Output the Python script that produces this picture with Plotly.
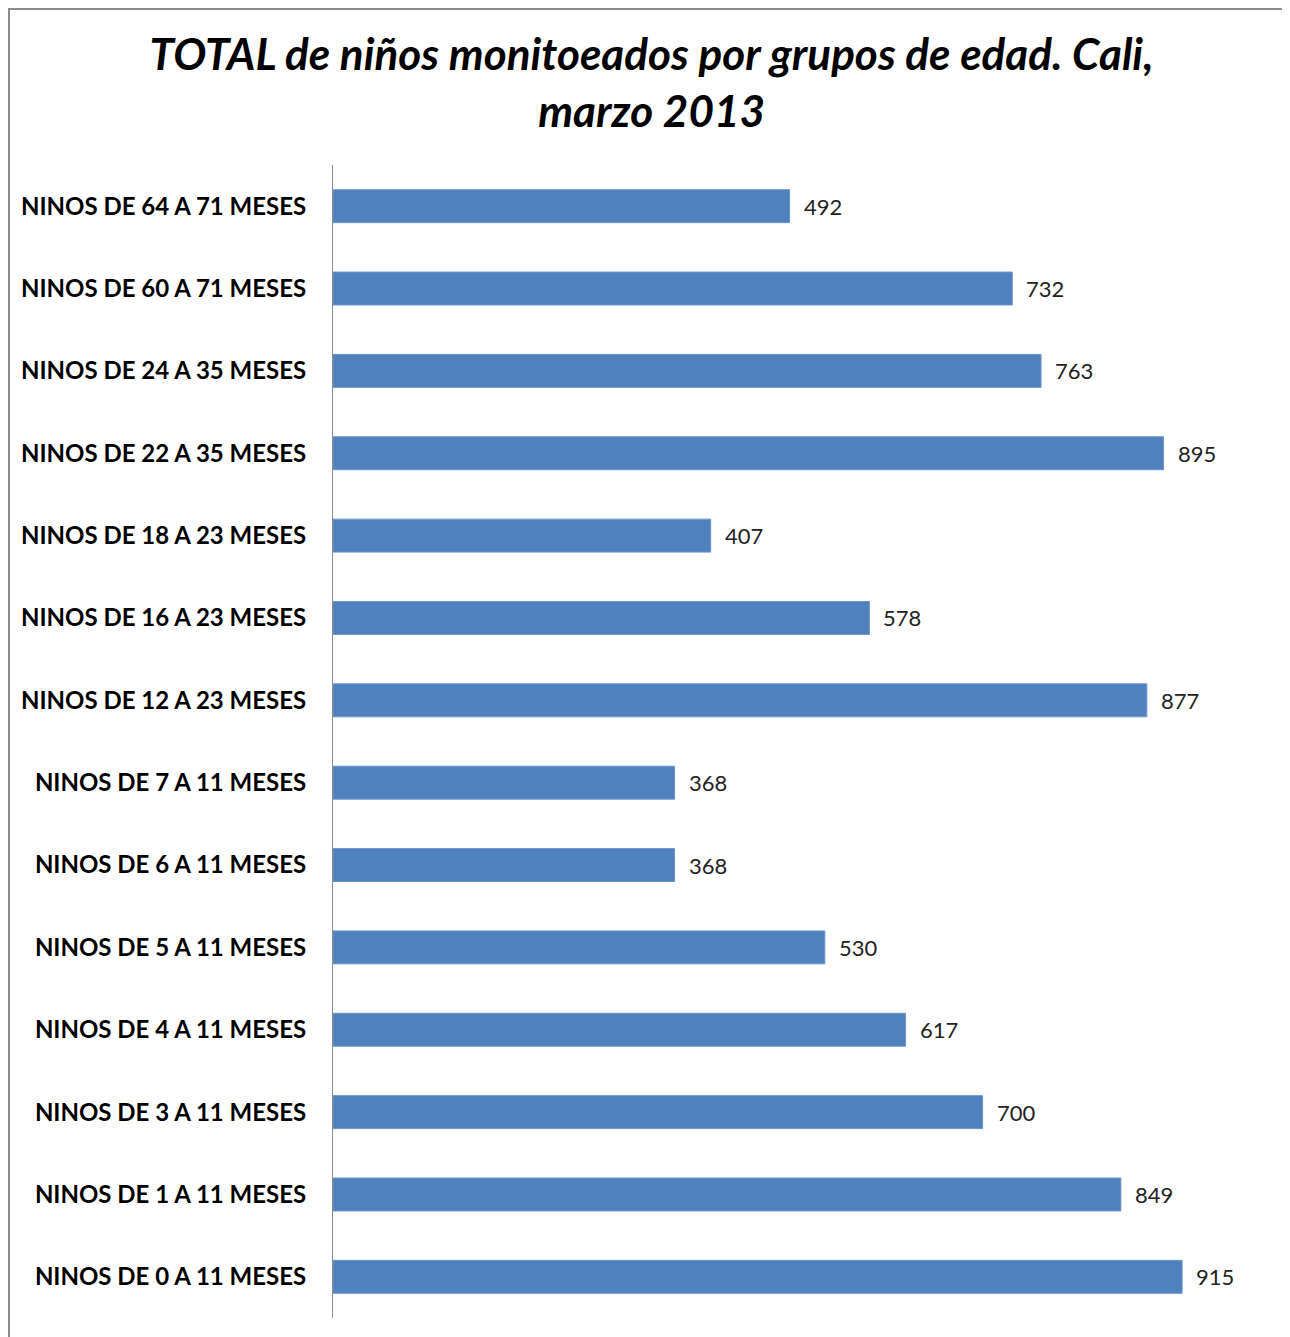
import plotly.graph_objects as go

categories = [
    "NINOS DE 64 A 71 MESES",
    "NINOS DE 60 A 71 MESES",
    "NINOS DE 24 A 35 MESES",
    "NINOS DE 22 A 35 MESES",
    "NINOS DE 18 A 23 MESES",
    "NINOS DE 16 A 23 MESES",
    "NINOS DE 12 A 23 MESES",
    "NINOS DE 7 A 11 MESES",
    "NINOS DE 6 A 11 MESES",
    "NINOS DE 5 A 11 MESES",
    "NINOS DE 4 A 11 MESES",
    "NINOS DE 3 A 11 MESES",
    "NINOS DE 1 A 11 MESES",
    "NINOS DE 0 A 11 MESES",
]
values = [492, 732, 763, 895, 407, 578, 877, 368, 368, 530, 617, 700, 849, 915]

title_text = "TOTAL de niños monitoeados por grupos de edad. Cali,<br>marzo 2013"

OFF = 8  # page body margin
W, H = 1282, 1329
ml, mr, mt, mb = 325, 29, 157, 19
pw = W - ml - mr
ph = H - mt - mb

FONT = "Lato, Open Sans, sans-serif"

fig = go.Figure()
fig.add_trace(go.Bar(
    y=categories, x=values, orientation="h",
    marker=dict(color="#4F81BD", line=dict(color="#6A95CC", width=1)),
    hoverinfo="x+y",
))

for c, v in zip(categories, values):
    fig.add_annotation(
        x=v, y=c, text=str(v), showarrow=False,
        xanchor="left", xshift=12,
        font=dict(family=FONT, size=22, color="#222"),
    )

def px_x(p):
    return (p - OFF - ml) / pw

def px_y(p):
    return (H - mb - (p - OFF)) / ph

fig.add_shape(
    type="rect", xref="paper", yref="paper",
    x0=px_x(9), x1=px_x(1287), y0=px_y(1360), y1=px_y(9),
    line=dict(color="#8C8C8C", width=2), fillcolor="rgba(0,0,0,0)",
    layer="below",
)

fig.update_layout(
    width=W, height=H,
    margin=dict(l=ml, r=mr, t=mt, b=mb),
    paper_bgcolor="white", plot_bgcolor="white",
    showlegend=False,
    bargap=0.6,
    title=dict(
        text="<b><i>" + title_text + "</i></b>",
        xref="container", x=0.502, xanchor="center",
        yref="container", y=1 - 62 / H, yanchor="top",
        font=dict(family=FONT, size=44, color="black"),
    ),
    xaxis=dict(range=[0, 1000], showticklabels=False, showgrid=False,
               zeroline=False, showline=False, fixedrange=True),
    yaxis=dict(autorange="reversed", showgrid=False, zeroline=False,
               showline=True, linecolor="#8C8C8C", linewidth=1,
               ticks="", ticklabelstandoff=21,
               tickfont=dict(family=FONT, size=24, color="black")),
)

fig.update_yaxes(tickprefix="<b>", ticksuffix="</b>")

fig.write_html("out.html")
